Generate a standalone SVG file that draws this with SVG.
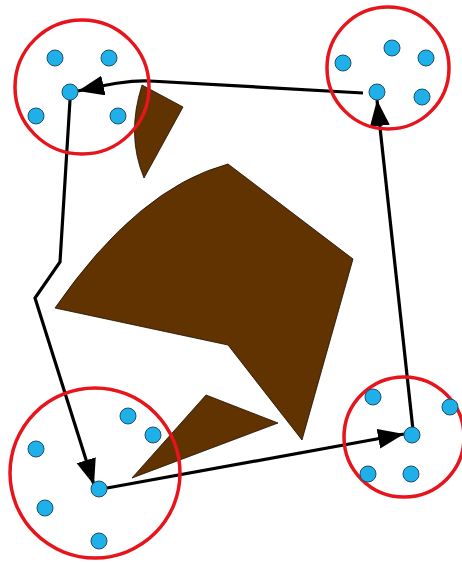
<svg xmlns="http://www.w3.org/2000/svg" width="462" height="562" viewBox="0 0 462 562">
<style>
.obst{fill:#603300;stroke:#1a0d00;stroke-width:0.8;stroke-linejoin:miter}
.ring{fill:none;stroke:#e8141c;stroke-width:3.5}
.dot{fill:#1fb0ea;stroke:#1d4f6e;stroke-width:1}
.conn{fill:none;stroke:#000;stroke-width:3.2;stroke-linejoin:miter}
</style>
<defs>
<marker id="arr" markerUnits="userSpaceOnUse" markerWidth="28" markerHeight="22" refX="26" refY="10" orient="auto" viewBox="0 0 28 22">
<path d="M0,0 L26,10 L0,20 Z" fill="#000"/>
</marker>
</defs>
<rect width="462" height="562" fill="#fff"/>
<g id="obstacles">
<path class="obst" d="M142,85 L183,107 L144,178 Q126,135 142,85 Z"/>
<path class="obst" d="M55,308 Q138,188 228,164 L353,259 L302,440 L228,345 Z"/>
<path class="obst" d="M206,395 L278,423 L132,478 Z"/>
</g>
<g id="connectors">
<path class="conn" d="M363,93 L150,81 C130,80 110,84 78,91" marker-end="url(#arr)"/>
<path class="conn" d="M70,100 L60,262 L35,298 L94,485" marker-end="url(#arr)"/>
<path class="conn" d="M107,488 L404,434" marker-end="url(#arr)"/>
<path class="conn" d="M413,430 L377,100" marker-end="url(#arr)"/>
</g>
<g id="cluster-top-left">
<circle class="ring" cx="82" cy="87" r="67"/>
<circle class="dot" cx="55" cy="58" r="8"/>
<circle class="dot" cx="109" cy="58" r="8"/>
<circle class="dot" cx="70" cy="92" r="8"/>
<circle class="dot" cx="36" cy="116" r="8"/>
<circle class="dot" cx="118" cy="116" r="8"/>
</g>
<g id="cluster-top-right">
<circle class="ring" cx="388" cy="68" r="61"/>
<circle class="dot" cx="343" cy="63" r="8"/>
<circle class="dot" cx="392" cy="48" r="8"/>
<circle class="dot" cx="426" cy="58" r="8"/>
<circle class="dot" cx="377" cy="92" r="8"/>
<circle class="dot" cx="422" cy="97" r="8"/>
</g>
<g id="cluster-bottom-left">
<circle class="ring" cx="95" cy="473" r="85"/>
<circle class="dot" cx="128" cy="416" r="8"/>
<circle class="dot" cx="153" cy="435" r="8"/>
<circle class="dot" cx="36" cy="449" r="8"/>
<circle class="dot" cx="99" cy="489" r="8"/>
<circle class="dot" cx="45" cy="508" r="8"/>
<circle class="dot" cx="99" cy="541" r="8"/>
</g>
<g id="cluster-bottom-right">
<circle class="ring" cx="404" cy="437" r="60"/>
<circle class="dot" cx="373" cy="397" r="8"/>
<circle class="dot" cx="450" cy="407" r="8"/>
<circle class="dot" cx="412" cy="435" r="8"/>
<circle class="dot" cx="368" cy="474" r="8"/>
<circle class="dot" cx="411" cy="474" r="8"/>
</g>
</svg>
